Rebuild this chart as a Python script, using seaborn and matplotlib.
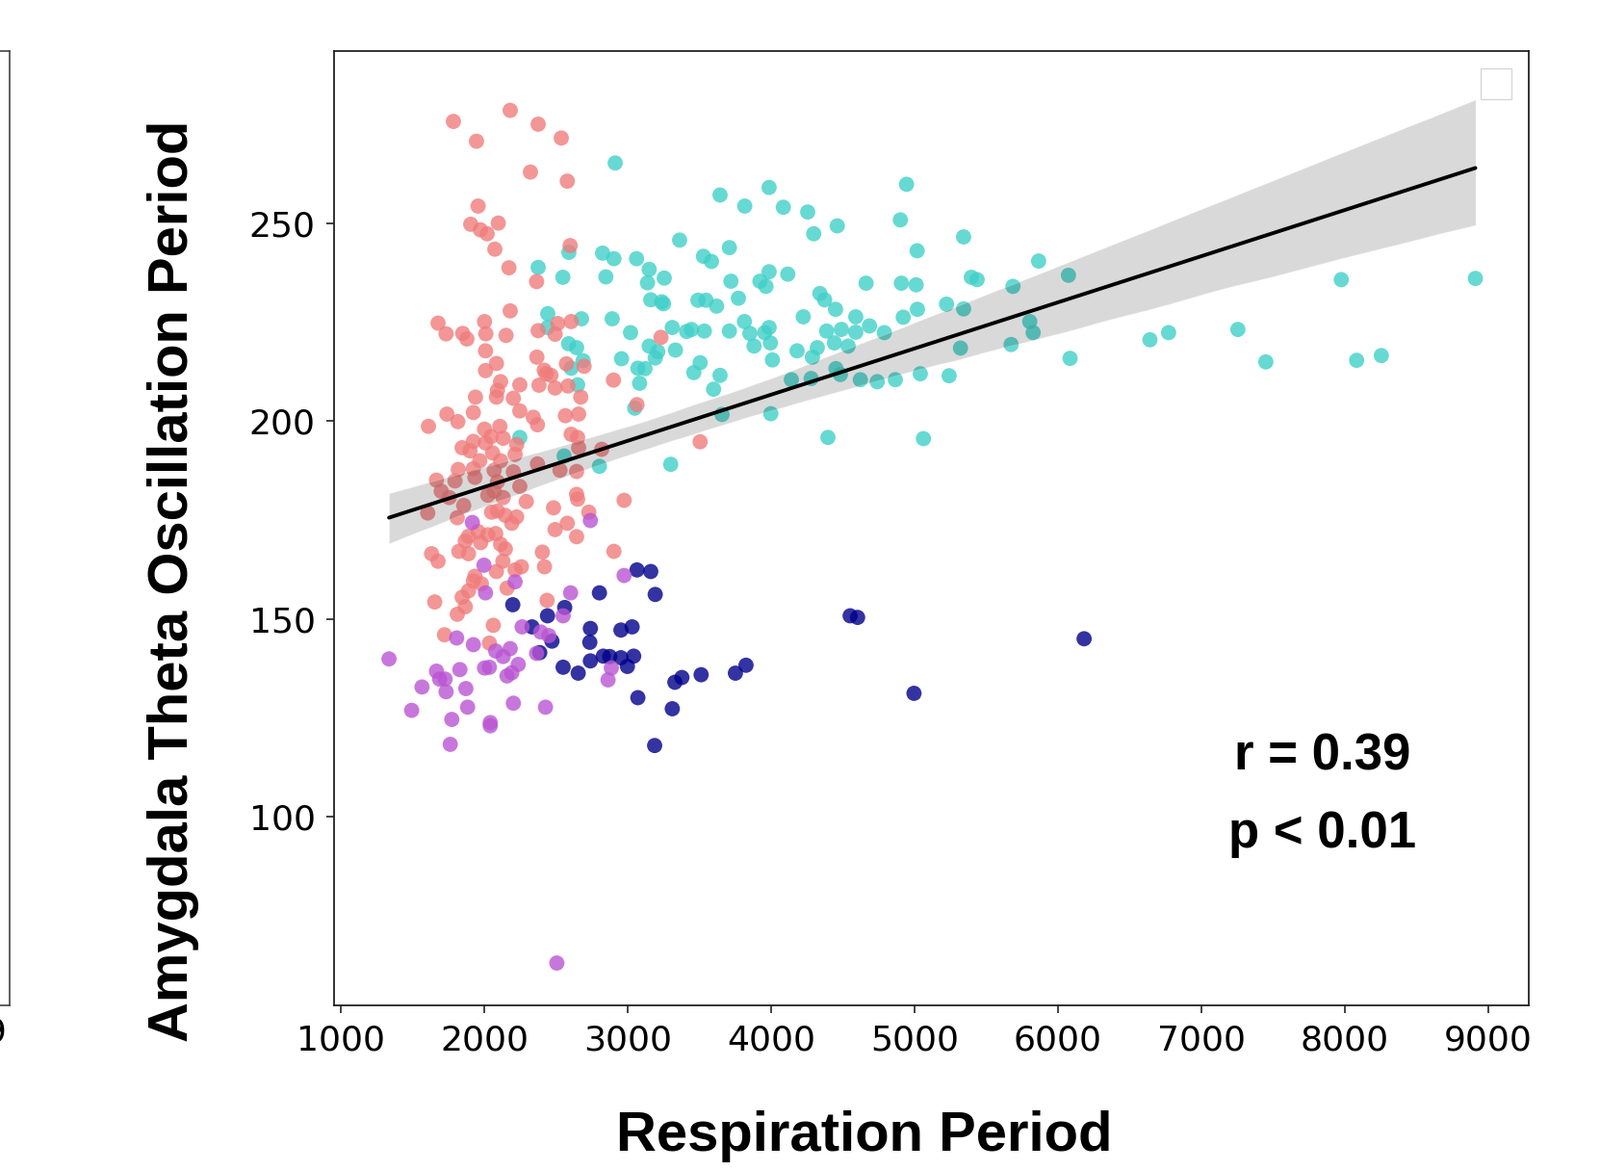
import numpy as np
import pandas as pd
import matplotlib
matplotlib.use("Agg")
import matplotlib.pyplot as plt
import seaborn as sns

# ---------------- data ----------------
group_names = ["teal", "salmon", "navy", "orchid"]
group_colors = ["#40D0C8", "#F07C7C", "#00008B", "#BA55D3"]

salmon_x = [1785, 2181, 2376, 1946, 2537, 2322, 2579, 1957, 1906, 1973, 2020, 2098, 2074, 2599,
            2172, 2365, 2181, 1678, 1734, 1850, 1879, 2002, 2011, 2152, 2376, 2512, 2606, 2494,
            2009, 2367, 2085, 2009, 2573, 2696, 2418, 2465, 2432, 2901, 3232, 2114, 2248, 2382,
            2494, 2584, 2092, 1939, 2085, 2203, 2673, 3505,
            1924, 1740, 1816, 2248, 2342, 2371, 2566, 2658, 1611, 2002, 2109, 2132, 2047, 1924,
            1846, 1901, 2009, 2058, 2226, 2215, 2606, 2651, 2658, 2819, 2114, 1969, 1924, 1819,
            1667, 1796, 1700, 1756, 1857, 1606, 1812, 1935, 2069, 2092, 2203, 2248, 2132, 2025,
            2069, 2371, 2528, 2644, 2293, 2483, 2644, 2651, 2729, 2975, 2051, 2092, 2147, 2226,
            2192, 2579, 2494, 2644, 1890, 1957, 2025, 2080, 1868, 1975, 2114, 2147, 1823, 1890,
            1633, 1678, 2405, 2904, 2130, 2085, 2259, 2215, 2420, 1935, 1924, 1980, 2159, 1890,
            1846, 1868, 1655, 1812, 2438, 2063, 1723, 2036, 3065]
salmon_y = [275.8, 278.6, 275.1, 270.8, 271.6, 263.0, 260.7, 254.4, 249.8, 248.4, 247.4, 250.1,
            243.5, 244.4, 238.8, 235.3, 227.9, 224.8, 222.1, 222.2, 220.8, 225.2, 222.1, 221.7,
            222.9, 224.7, 225.2, 222.0, 217.8, 216.2, 214.6, 212.8, 214.5, 213.9, 212.9, 211.6,
            212.0, 210.4, 221.2, 210.0, 209.2, 209.1, 208.4, 208.9, 207.8, 206.1, 206.1, 205.8,
            206.1, 194.8,
            202.2, 201.8, 199.9, 202.6, 201.0, 199.1, 201.4, 201.8, 198.7, 198.0, 198.7, 195.7,
            196.1, 194.9, 193.3, 192.5, 194.5, 192.0, 194.1, 191.6, 196.7, 195.9, 193.3, 192.9,
            190.0, 190.0, 188.0, 187.8, 185.1, 184.9, 182.3, 180.7, 178.7, 176.8, 175.6, 185.8,
            187.6, 184.7, 187.2, 183.5, 180.7, 181.3, 182.3, 189.2, 187.6, 187.3, 179.7, 178.1,
            181.5, 180.3, 177.0, 180.0, 177.0, 177.3, 176.2, 175.8, 174.2, 174.2, 172.6, 170.8,
            170.9, 172.1, 171.3, 171.6, 169.7, 169.3, 168.9, 167.7, 167.1, 166.5, 166.5, 164.6,
            166.9, 167.1, 164.6, 162.0, 163.2, 162.4, 163.2, 160.8, 159.6, 158.9, 157.8, 157.1,
            155.5, 153.1, 154.3, 151.2, 154.7, 148.4, 146.0, 143.9, 204.2]

teal_x = [2913, 2590, 2825, 2904, 3062, 3150, 2376, 2548, 2848, 3138, 3255, 3161, 3237, 3250,
          2443, 2678, 2892, 2441, 3020, 3311, 2588, 2644, 3150, 3210, 3192, 2957, 2689, 2606,
          3071, 3121, 3083, 2651,
          2248, 2557, 2803, 3049,
          3362, 3644, 3986, 3816, 4085, 4255, 4297, 4461, 4944, 4901, 5342, 5018, 5865, 3528,
          3584, 3709, 3720, 3986, 3922, 3964, 4116, 3490, 3546, 3620, 3772, 4340, 4373, 4449,
          4662, 4908, 5011, 5396, 5436, 5223, 5342, 5020, 4921, 5686, 4224, 4590, 4686, 3814,
          3852, 3955, 3986, 3995, 3881, 3709, 3534, 3411, 3445, 3333, 4387, 4490, 4590, 4441,
          4537, 4322, 4288, 4181, 4789, 5803, 5827, 5673, 5320, 4009, 3505, 3461, 3644, 3599,
          4452, 4483, 4141, 4279, 4622, 4740, 4866, 5040, 5241, 3658, 3998, 4396, 5062, 3300,
          6073, 6084, 6641, 6771, 7254, 7449, 7975, 8082, 8254, 8910]
teal_y = [265.3, 242.7, 242.5, 241.1, 241.1, 238.4, 238.9, 236.4, 236.5, 235.0, 236.2, 230.7,
          230.2, 229.7, 227.2, 225.9, 225.9, 223.7, 222.4, 223.7, 219.6, 218.6, 219.0, 217.6,
          216.0, 215.8, 215.3, 213.4, 213.4, 213.3, 209.6, 209.2,
          195.9, 191.2, 188.6, 203.3,
          245.8, 257.2, 259.1, 254.4, 254.1, 252.9, 247.4, 249.4, 259.9, 250.9, 246.6, 243.1,
          240.5, 241.7, 240.4, 243.9, 235.4, 237.8, 235.4, 234.1, 237.2, 230.6, 230.6, 229.1,
          231.1, 232.3, 230.7, 228.3, 234.9, 234.9, 234.5, 236.4, 235.8, 229.6, 228.4, 228.3,
          226.3, 234.1, 226.4, 226.4, 224.1, 225.2, 222.2, 222.4, 223.7, 219.8, 219.0, 222.8,
          222.8, 222.7, 223.2, 218.0, 222.8, 223.2, 222.5, 219.8, 219.0, 218.6, 216.2, 217.8,
          222.4, 225.2, 222.4, 219.4, 218.5, 215.5, 214.8, 212.3, 211.6, 208.1, 213.3, 211.8,
          210.5, 210.8, 210.5, 210.0, 210.5, 212.0, 211.5, 201.7, 201.9, 195.9, 195.6, 189.1,
          236.9, 215.9, 220.6, 222.4, 223.2, 215.0, 235.8, 215.4, 216.6, 236.1]

orchid_x = [1917, 2740, 1998, 2215, 2975, 2009, 2602, 2550, 2264, 2394, 2450, 1808, 1924, 2181,
            2080, 2132, 2365, 1336, 1830, 2036, 2002, 2237, 2192, 2159, 1667, 1689, 1727, 1566,
            1734, 1872, 2886, 2863, 1494, 1884, 2203, 2427, 1774, 2042, 2042, 1763, 2506]
orchid_y = [174.4, 174.9, 163.6, 159.4, 161.0, 156.6, 156.6, 150.8, 148.0, 146.7, 145.8, 145.2,
            143.5, 142.5, 141.9, 140.5, 141.3, 139.9, 137.2, 137.8, 137.6, 138.5, 136.4, 135.6,
            136.8, 134.8, 134.8, 132.8, 131.6, 132.4, 137.6, 134.6, 126.9, 127.7, 128.7, 127.7,
            124.6, 123.8, 123.0, 118.3, 63.0]

navy_x = [2199, 2441, 2561, 2333, 2472, 2387, 2550, 2655, 2740, 2736, 2740, 2803, 3065, 3161,
          3192, 2953, 3031, 2830, 2875, 2953, 3042, 2998, 3071, 3188, 3311, 3329, 3378, 3512,
          3751, 3825, 4551, 4603, 4996, 6182]
navy_y = [153.6, 150.8, 152.9, 148.0, 144.4, 141.5, 137.8, 136.3, 147.6, 144.1, 139.4, 156.6,
          162.4, 162.0, 156.2, 147.2, 148.0, 140.6, 140.5, 140.2, 140.6, 138.0, 130.1, 118.0,
          127.3, 134.0, 135.2, 135.9, 136.3, 138.3, 150.8, 150.4, 131.2, 145.0]

x_ticks = [1000, 2000, 3000, 4000, 5000, 6000, 7000, 8000, 9000]
y_ticks = [100, 150, 200, 250]
x_label = "Respiration Period"
y_label = "Amygdala Theta Oscillation Period"
stat_lines = ["r = 0.39", "p < 0.01"]
left_panel_tick_label = "9"

frames = []
for name, xs, ys in [("teal", teal_x, teal_y), ("salmon", salmon_x, salmon_y),
                     ("navy", navy_x, navy_y), ("orchid", orchid_x, orchid_y)]:
    frames.append(pd.DataFrame({"resp": xs, "theta": ys, "group": name}))
df = pd.concat(frames, ignore_index=True)

# ---------------- figure ----------------
sns.set_style("white")
plt.rcParams["font.family"] = ["DejaVu Sans"]

W, H = 1662, 1216
fig = plt.figure(figsize=(W / 100, H / 100), dpi=100)

ax_l, ax_r, ax_t, ax_b = 347, 1588, 53, 1044
ax = fig.add_axes([ax_l / W, 1 - ax_b / H, (ax_r - ax_l) / W, (ax_b - ax_t) / H])

sns.scatterplot(data=df, x="resp", y="theta", hue="group", hue_order=group_names,
                palette=dict(zip(group_names, group_colors)), s=130, alpha=0.8,
                linewidth=0, legend=False, ax=ax)
sns.regplot(data=df, x="resp", y="theta", scatter=False, color="black",
            line_kws={"linewidth": 2.8}, ax=ax)

ax.set_xlim(953, 9282)
ax.set_ylim(52.3, 293.6)
ax.set_xticks(x_ticks)
ax.set_yticks(y_ticks)
ax.set_xlabel("")
ax.set_ylabel("")
ax.tick_params(axis="both", bottom=True, left=True, direction="out", length=6,
               width=1.2, color="#222222", labelcolor="black", pad=8)
ax.tick_params(axis="x", labelsize=26)
ax.tick_params(axis="y", labelsize=26)
for sp in ax.spines.values():
    sp.set_visible(True)
    sp.set_color("#222222")
    sp.set_linewidth(1.3)

leg = ax.legend(handles=[], loc="upper right", fontsize=29, frameon=True,
                fancybox=False, borderaxespad=0.45)
leg.get_frame().set_edgecolor("#cccccc")

# partial neighbouring panel on the far left
pw = 500
ax0 = fig.add_axes([(10 - pw) / W, 1 - ax_b / H, pw / W, (ax_b - ax_t) / H])
ax0.set_xlim(0, 1)
ax0.set_ylim(0, 1)
ax0.set_yticks([])
ax0.set_xticks([1 - 15 / pw])
ax0.set_xticklabels([left_panel_tick_label])
ax0.tick_params(axis="x", bottom=True, labelsize=26, pad=8, length=0,
                labelcolor="black")
for sp in ax0.spines.values():
    sp.set_visible(True)
    sp.set_color("#444444")
    sp.set_linewidth(1.2)

# labels
bold = dict(fontweight="bold", family=["Liberation Sans", "DejaVu Sans"], color="black")
fig.text(898 / W, 1 - 1195 / H, x_label, ha="center", va="baseline", fontsize=41.8, **bold)
fig.text(180 / W, 1 - 603 / H, y_label, rotation=90, ha="center", va="center",
         fontsize=41.8, **bold)
fig.text(1374 / W, 1 - 800 / H, stat_lines[0], ha="center", va="baseline", fontsize=38, **bold)
fig.text(1374 / W, 1 - 880 / H, stat_lines[1], ha="center", va="baseline", fontsize=38, **bold)

fig.savefig("out.png", dpi=100)
